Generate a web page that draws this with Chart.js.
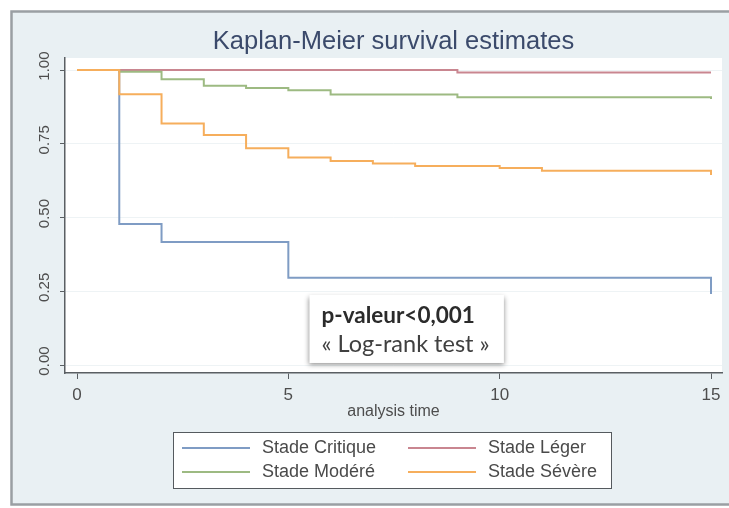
<!DOCTYPE html>
<html>
<head>
<meta charset="utf-8">
<script src="https://cdn.jsdelivr.net/npm/chart.js@4.4.1/dist/chart.umd.min.js"></script>
<style>
  html, body { margin: 0; padding: 0; background: #fff; }
  #wrap { width: 729px; height: 508px; }
</style>
</head>
<body>
<div id="wrap"><canvas id="kmChart" width="729" height="508"></canvas></div>
<script>
// analysis time
const times = [0, 1, 2, 3, 4, 5, 6, 7, 8, 9, 10, 11, 12, 13, 14, 15];

// survival estimate after each time
const stadeCritique = [1, 0.478, 0.417, 0.417, 0.417, 0.296, 0.296, 0.296, 0.296, 0.296, 0.296, 0.296, 0.296, 0.296, 0.296, 0.241];
const stadeLeger = [1, 1, 1, 1, 1, 1, 1, 1, 1, 0.992, 0.992, 0.992, 0.992, 0.992, 0.992, 0.992];
const stadeModere = [1, 0.994, 0.969, 0.947, 0.939, 0.932, 0.917, 0.917, 0.917, 0.908, 0.908, 0.908, 0.908, 0.908, 0.908, 0.902];
const stadeSevere = [1, 0.918, 0.819, 0.780, 0.735, 0.704, 0.692, 0.683, 0.675, 0.675, 0.668, 0.659, 0.659, 0.659, 0.659, 0.644];

const seriesLabels = ["Stade Critique", "Stade Léger", "Stade Modéré", "Stade Sévère"];
const seriesColors = ["#7f9cc4", "#c98690", "#9dba82", "#f6ae5c"];
const xTicks = [0, 5, 10, 15];
const yTicks = [0, 0.25, 0.5, 0.75, 1];

const annotationLines = ["p-valeur<0,001", "« Log-rank test »"];

const FONT = "'Liberation Sans', Arial, sans-serif";

function toPoints(values) {
  return times.map((t, i) => ({ x: t, y: values[i] }));
}

// ✅ Panel background + frame
const backgroundPlugin = {
  id: "panelBackground",
  beforeDraw(chart) {
    const { ctx, chartArea } = chart;
    ctx.save();
    ctx.fillStyle = "#ffffff";
    ctx.fillRect(0, 0, chart.width, chart.height);
    ctx.fillStyle = "#e9f0f3";
    ctx.fillRect(11, 11, chart.width - 11, 494);
    ctx.strokeStyle = "#9a9fa3";
    ctx.lineWidth = 2.5;
    ctx.strokeRect(11.5, 11.5, chart.width + 10, 493);
    ctx.fillStyle = "#ffffff";
    ctx.fillRect(chartArea.left, chartArea.top, chartArea.right - chartArea.left, chartArea.bottom - chartArea.top);
    ctx.restore();
  },
};

// ✅ Text box with the test result
const annotationPlugin = {
  id: "logRankBox",
  afterDatasetsDraw(chart) {
    const { ctx, scales } = chart;
    const x0 = scales.x.getPixelForValue(5.5);
    const x1 = scales.x.getPixelForValue(10.1);
    const y0 = scales.y.getPixelForValue(0.238);
    const y1 = scales.y.getPixelForValue(0.007);
    ctx.save();
    ctx.shadowColor = "rgba(0,0,0,0.45)";
    ctx.shadowBlur = 5;
    ctx.shadowOffsetX = 0;
    ctx.shadowOffsetY = 2;
    ctx.fillStyle = "#ffffff";
    ctx.fillRect(x0, y0, x1 - x0, y1 - y0);
    ctx.restore();

    ctx.save();
    ctx.textBaseline = "alphabetic";
    ctx.textAlign = "left";
    ctx.fillStyle = "#2b2b2b";
    ctx.font = "bold 22.5px Lato, 'Open Sans', sans-serif";
    ctx.fillText(annotationLines[0], x0 + 12, y0 + 28);
    ctx.fillStyle = "#404040";
    ctx.font = "23.5px Lato, 'Open Sans', sans-serif";
    ctx.fillText(annotationLines[1], x0 + 12, y0 + 57);
    ctx.restore();
  },
};

// ✅ Boxed legend, two columns
const legendPlugin = {
  id: "boxLegend",
  afterDraw(chart) {
    const { ctx } = chart;
    const box = { left: 173, top: 432, width: 438, height: 56 };
    const cols = [182, 408];
    const rows = [448, 472];
    ctx.save();
    ctx.fillStyle = "#ffffff";
    ctx.fillRect(box.left, box.top, box.width, box.height);
    ctx.strokeStyle = "#555a5e";
    ctx.lineWidth = 1;
    ctx.strokeRect(box.left + 0.5, box.top + 0.5, box.width, box.height);
    ctx.font = "18px " + FONT;
    ctx.textBaseline = "middle";
    ctx.textAlign = "left";
    chart.data.datasets.forEach((ds, i) => {
      const cx = cols[i % 2];
      const cy = rows[Math.floor(i / 2)];
      ctx.strokeStyle = ds.borderColor;
      ctx.lineWidth = 2;
      ctx.beginPath();
      ctx.moveTo(cx, cy);
      ctx.lineTo(cx + 68, cy);
      ctx.stroke();
      ctx.fillStyle = "#4a4a4a";
      ctx.fillText(ds.label, cx + 80, cy);
    });
    ctx.restore();
  },
};

const ctx = document.getElementById("kmChart").getContext("2d");
const kmChart = new Chart(ctx, {
  type: "line",
  data: {
    datasets: [
      { label: seriesLabels[0], data: toPoints(stadeCritique), borderColor: seriesColors[0], order: 3 },
      { label: seriesLabels[1], data: toPoints(stadeLeger), borderColor: seriesColors[1], order: 2 },
      { label: seriesLabels[2], data: toPoints(stadeModere), borderColor: seriesColors[2], order: 1 },
      { label: seriesLabels[3], data: toPoints(stadeSevere), borderColor: seriesColors[3], order: 0 },
    ],
  },
  options: {
    responsive: false,
    animation: false,
    events: [],
    elements: {
      line: { stepped: "before", borderWidth: 2, fill: false, tension: 0 },
      point: { radius: 0 },
    },
    layout: { padding: { left: 12, right: 7, top: 0, bottom: 85 } },
    plugins: {
      legend: { display: false },
      tooltip: { enabled: false },
      title: {
        display: true,
        fullSize: false,
        text: "Kaplan-Meier survival estimates",
        color: "#3b4a6b",
        font: { family: FONT, size: 25.5, weight: "normal" },
        padding: { top: 26.5, bottom: 0.9 },
      },
    },
    scales: {
      x: {
        type: "linear",
        min: -0.284,
        max: 15.26,
        afterBuildTicks: (scale) => {
          scale.ticks = xTicks.map((v) => ({ value: v }));
        },
        afterFit: (scale) => {
          scale.height = 50;
        },
        grid: { drawOnChartArea: false, tickLength: 6, tickColor: "#5a5f63", tickWidth: 1 },
        border: { color: "#5a5f63", width: 1.5 },
        ticks: {
          color: "#4d4d4d",
          font: { family: FONT, size: 17 },
          padding: 6,
          maxRotation: 0,
        },
        title: {
          display: true,
          text: "analysis time",
          color: "#4d4d4d",
          font: { family: FONT, size: 16 },
          padding: { top: 0, bottom: 2 },
        },
      },
      y: {
        type: "linear",
        min: -0.027,
        max: 1.041,
        afterBuildTicks: (scale) => {
          scale.ticks = yTicks.map((v) => ({ value: v }));
        },
        afterFit: (scale) => {
          scale.width = 53;
        },
        grid: { color: "#eef3f5", tickLength: 5, tickColor: "#5a5f63", tickWidth: 1 },
        border: { color: "#5a5f63", width: 1.5 },
        ticks: {
          color: "#4d4d4d",
          font: { family: FONT, size: 15 },
          minRotation: 90,
          maxRotation: 90,
          crossAlign: "center",
          padding: 1,
          labelOffset: -4,
          callback: (v) => v.toFixed(2),
        },
      },
    },
  },
  plugins: [backgroundPlugin, annotationPlugin, legendPlugin],
});
</script>
</body>
</html>
